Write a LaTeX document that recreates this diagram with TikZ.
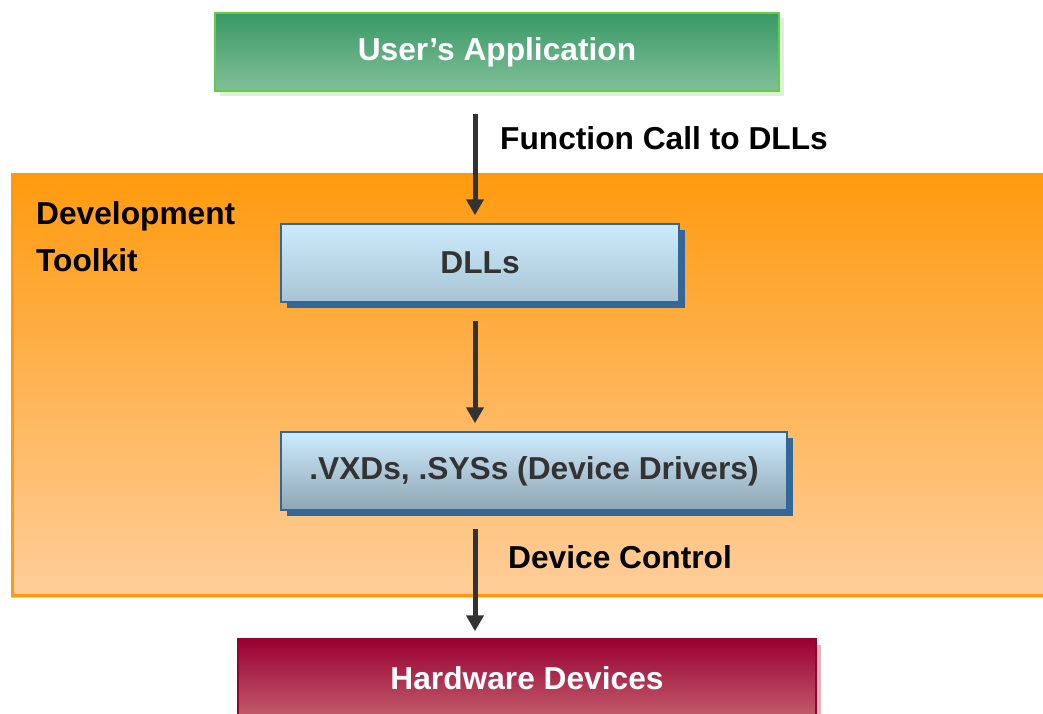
\documentclass[tikz,border=0pt]{standalone}
\usepackage{fontspec}
\setmainfont{Liberation Sans}
\usetikzlibrary{arrows.meta,shadows}
\definecolor{leaf}{HTML}{389866}
\definecolor{leaflight}{HTML}{82C09A}
\definecolor{leafedge}{HTML}{66CC44}
\definecolor{leafshade}{HTML}{DCF2D4}
\definecolor{amber}{HTML}{FF9A0E}
\definecolor{peach}{HTML}{FFCE9B}
\definecolor{sky}{HTML}{CDEBFD}
\definecolor{steel}{HTML}{A8C4D3}
\definecolor{slate}{HTML}{8FA6B4}
\definecolor{navy}{HTML}{336699}
\definecolor{wine}{HTML}{990033}
\definecolor{rose}{HTML}{C25C6C}
\definecolor{roseshade}{HTML}{E4B3BE}
\definecolor{ink}{HTML}{333333}

\begin{document}
\begin{tikzpicture}[
    x=1pt, y=-1pt,
    >={Triangle[length=16pt,width=17pt]},
    every node/.style={inner sep=0pt, font=\fontsize{31.7}{38}\selectfont\bfseries},
    flow/.style={ink, line width=5pt, ->},
    appbox/.style={draw=leafedge, line width=2.5pt, top color=leaf, bottom color=leaflight,
        text=white, minimum width=564pt, minimum height=78pt,
        drop shadow={shadow xshift=5pt, shadow yshift=-5pt, fill=leafshade, opacity=1}},
    layer/.style={draw=navy, line width=1.5pt, top color=sky, text=ink, minimum height=78pt,
        drop shadow={shadow xshift=6pt, shadow yshift=-6pt, fill=navy, opacity=1}},
    hwbox/.style={draw=wine, line width=1.5pt, top color=wine, bottom color=rose,
        text=white, minimum width=578pt, minimum height=78pt,
        drop shadow={shadow xshift=5pt, shadow yshift=-6pt, fill=roseshade, opacity=1}},
]
\useasboundingbox (0,0) rectangle (1043,713);

% --- Development toolkit band ---
\shade[top color=amber, bottom color=peach] (11,173) rectangle (1050,597);
\draw[amber, line width=3.5pt] (12.5,173) |- (1050,595.5);
\node[anchor=base west] (kit1) at (36,224.5) {Development};
\node[anchor=base west] (kit2) at (36,271) {Toolkit};

% --- Layers ---
\node[appbox] (app) at (497,52) {User’s Application};
\node[layer, bottom color=steel, minimum width=398pt] (dll) at (480,263) {DLLs};
\node[layer, bottom color=slate, minimum width=506pt] (drv) at (534,471) {.VXDs, .SYSs (Device Drivers)};
\node[hwbox] (hw) at (527,678) {Hardware Devices};

% --- Calls between layers ---
\coordinate (spine) at (475,0);
\draw[flow] ([yshift=-22pt]app.south -| spine) -- ([yshift=8pt]dll.north -| spine);
\draw[flow] ([yshift=-18pt]dll.south -| spine) -- ([yshift=8pt]drv.north -| spine);
\draw[flow] ([yshift=-18pt]drv.south -| spine) -- ([yshift=7pt]hw.north -| spine);

\node[anchor=west] (call) at (500,138) {Function Call to DLLs};
\node[anchor=west] (ctrl) at (508,557) {Device Control};

\end{tikzpicture}
\end{document}
